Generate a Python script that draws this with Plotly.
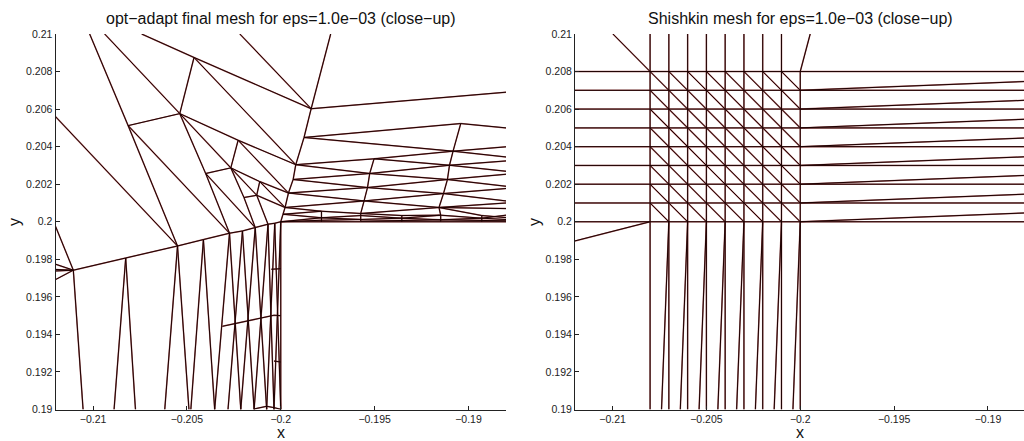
import plotly.graph_objects as go

# ---- left mesh (opt-adapt), node coordinates in units of 1e-3 ----
node_names = ["t1","t2","t3","t4","t5","e1","A","B","C","D","E","F","G","H","I","J","K","L","M","N","O","P","Q","T","S","U","V",
              "V2","V3","V4","V5","U2","U3","U4","U5","G2","L2","R","y1","y2","y4","y6","y9",
              "n1","n1b","a1","a2","a3","a4","a5","a6","b2","b4","b6","c3","c5","c6","d1","d2","d4","d6","dr",
              "v3b","v4b","v5b"]
node_x = [-210.18,-209.38,-207.41,-202.18,-197.34,-212,-204.62,-205.38,-208.13,-202.27,-202.66,-204.00,-199.20,-201.12,-201.28,-201.96,-199.59,-199.77,-200,-200.68,-201.36,-202.73,-198.38,-198.76,-190.41,-190.82,-195.03,
          -195.26,-195.38,-195.56,-195.74,-191.01,-191.12,-191.33,-191.57,-199.34,-199.88,-205.50,-211.05,-208.26,-204.12,-202.04,-200.32,
          -197.83,-197.83,-197.83,-195.74,-193.55,-191.48,-189.29,-188,-195.74,-191.48,-188,-193.55,-189.29,-188,-197.83,-195.74,-191.48,-188,-188,
          -193.55,-191.48,-189.29]
node_y = [210,210,210,210,210,205.6,208.75,205.76,205.12,204.34,202.87,202.57,203.04,202.14,201.41,201.29,201.53,200.76,200,199.87,199.69,199.39,206.02,204.49,205.23,203.76,203.35,
          202.57,201.82,201.11,200.44,203.01,202.25,201.50,200.76,202.25,200.40,198.71,197.42,198.07,199.05,199.51,199.92,
          200.56,200,200.21,200.33,200.19,200.35,200.19,200.35,200.12,200.10,200.12,200.33,200.33,200.22,200.08,200.03,200.05,200.05,200,
          200,200,200]
edge_pairs = [("t1","C"),("C","R"),("t2","B"),("t3","A"),("A","Q"),("t4","Q"),("t5","Q"),("A","B"),("B","C"),("A","G"),("B","D"),("D","G"),
    ("B","E"),("B","F"),("F","P"),("E","F"),("D","E"),("D","K"),("E","H"),("H","K"),("H","I"),("H","L"),("E","I"),("E","J"),("J","O"),
    ("J","I"),("I","N"),("I","L"),("F","O"),("C","P"),("e1","R"),
    ("Q","T"),("T","G"),("G","G2"),("G2","K"),("K","L"),("L","L2"),("L2","M"),
    ("y1","y2"),("y2","R"),("R","y4"),("y4","P"),("P","y6"),("y6","O"),("O","N"),("N","y9"),("y9","M"),
    ("T","S"),("T","U"),("S","U"),("G","V"),("V","U"),("V","U2"),("G","V2"),("V2","U3"),("G2","V2"),("V2","U2"),("G2","V3"),("V3","U4"),
    ("K","V3"),("V3","U3"),("K","V4"),("V4","U5"),("L","V4"),("V4","U4"),("V5","U5"),
    ("V","V2"),("V2","V3"),("V3","V4"),("V4","V5"),("U","U2"),("U2","U3"),("U3","U4"),("U4","U5"),
    ("L","n1"),("L2","n1"),("n1","V5"),("n1","n1b"),("V5","a2"),("a2","d2"),("c3","v3b"),("U5","a4"),("a4","v4b"),("c5","v5b"),
    ("L2","a1"),("a1","a2"),("a2","a3"),("a3","a4"),("a4","a5"),("a5","a6"),
    ("M","a1"),("a1","b2"),("b2","a3"),("a3","b4"),("b4","a5"),("a5","b6"),
    ("V5","c3"),("c3","a4"),("U5","c5"),("c5","c6"),
    ("M","d1"),("d1","b2"),("d2","b4"),("b4","d6"),("M","dr")]

# right-edge fan ends, x=-188
fan_from = ["Q","S","U","U","U2","U2","U3","U3","U4","U4","U5","U5"]
fan_y    = [206.9,205.0,203.99,203.45,203.24,202.69,202.53,201.89,201.77,201.11,201.0,200.7]

# lines meeting the left axis at x=-212, ending at y1
left_fan_y = [199.76,197.74,197.46,197.38,196.92]

# zigzag below the corner: apex name, bottom x at y=190
zig_apex = ["y1","y2","y2","R","R","y4","y4","P","P","y6","y6","O","O","N","N","y9","y9","M","M"]
zig_x    = [-210.53,-208.88,-207.74,-206.18,-204.89,-204.79,-203.52,-203.52,-202.13,-202.81,-201.42,-202.13,-200.75,-201.42,-200.36,-200.75,-200,-200.36,-200]

# short cross pieces below the corner
cross_x = [[-203.11,-200.36,-200],[-200.5,-200],[-200.36,-200],[-201.42,-200.75,-200.36,-200]]
cross_y = [[194.43,195.02,195],[197.47,197.5],[192.58,192.53],[190.03,190.17,190.1,190.01]]

# ---- right mesh (Shishkin) ----
grid_x = [-208,-207,-206,-205,-204,-203,-202,-201,-200]
grid_y = [200,201,202,203,204,205,206,207,208]
right_fan_y = [200.47,201.47,202.47,203.46,204.46,205.46,206.47,207.47]
bottom_x = [-207.39,-206.39,-205.39,-204.39,-203.39,-202.39,-201.39,-200.39]
extra_x = [[-208,-209.98],[-200,-199.47],[-208,-212]]
extra_y = [[208,210],[208,210],[200,198.98]]

# ---- axes ----
x_ticks = [-0.21,-0.205,-0.2,-0.195,-0.19]
x_labels = ["\u22120.21","\u22120.205","\u22120.2","\u22120.195","\u22120.19"]
y_ticks = [0.19,0.192,0.194,0.196,0.198,0.2,0.202,0.204,0.206,0.208,0.21]
y_labels = ["0.19","0.192","0.194","0.196","0.198","0.2","0.202","0.204","0.206","0.208","0.21"]
title_left = "opt\u2212adapt final mesh for eps=1.0e\u221203 (close\u2212up)"
title_right = "Shishkin mesh for eps=1.0e\u221203 (close\u2212up)"

pos = dict(zip(node_names, zip(node_x, node_y)))

lx, ly = [], []
def seg(xs, ys, X, Y):
    X.extend(v / 1000 for v in xs); X.append(None)
    Y.extend(v / 1000 for v in ys); Y.append(None)

for a, b in edge_pairs:
    seg([pos[a][0], pos[b][0]], [pos[a][1], pos[b][1]], lx, ly)
for n, y in zip(fan_from, fan_y):
    seg([pos[n][0], -188], [pos[n][1], y], lx, ly)
for y in left_fan_y:
    seg([-212, pos["y1"][0]], [y, pos["y1"][1]], lx, ly)
for n, x in zip(zig_apex, zig_x):
    seg([pos[n][0], x], [pos[n][1], 190], lx, ly)
for xs, ys in zip(cross_x, cross_y):
    seg(xs, ys, lx, ly)

rx, ry = [], []
for y in grid_y:
    seg([-212, -188], [y, y], rx, ry)
for y, ye in zip(grid_y[:-1], right_fan_y):
    seg([-200, -188], [y, ye], rx, ry)
for x in grid_x:
    seg([x, x], [190, 210] if x != -200 else [190, 208], rx, ry)
for x, xb in zip(grid_x[1:], bottom_x):
    seg([x, xb], [200, 190], rx, ry)
for i in range(8):
    for j in range(8):
        seg([grid_x[i], grid_x[i + 1]], [grid_y[j + 1], grid_y[j]], rx, ry)
for xs, ys in zip(extra_x, extra_y):
    seg(xs, ys, rx, ry)

fig = go.Figure()
for X, Y, xa, ya in [(lx, ly, "x", "y"), (rx, ry, "x2", "y2")]:
    fig.add_trace(go.Scatter(x=X, y=Y, mode="lines", xaxis=xa, yaxis=ya, hoverinfo="skip",
                             line=dict(color="#a86060", width=1.5), connectgaps=False))
    fig.add_trace(go.Scatter(x=X, y=Y, mode="lines", xaxis=xa, yaxis=ya, hoverinfo="skip",
                             line=dict(color="#1c0000", width=1), connectgaps=False))

FONT = "Liberation Sans, Arial, sans-serif"
def xaxis(domain, rng, anchor):
    return dict(domain=domain, range=rng, anchor=anchor, showgrid=False, zeroline=False, automargin=False,
                showline=True, linecolor="#222", linewidth=1, ticks="inside", ticklen=4, tickwidth=1,
                tickcolor="#222", tickvals=x_ticks, ticktext=x_labels, tickangle=0,
                tickfont=dict(family=FONT, size=10.5, color="#222"))
def yaxis(anchor):
    return dict(domain=[1 - 409.5 / 441, 1 - 34 / 441], range=[0.19, 0.21], anchor=anchor, showgrid=False, zeroline=False, automargin=False,
                showline=True, linecolor="#222", linewidth=1, ticks="inside", ticklen=4, tickwidth=1,
                tickcolor="#222", tickvals=y_ticks, ticktext=y_labels,
                tickfont=dict(family=FONT, size=10.5, color="#222"))

def label(text, x, y, size, angle=0):
    return dict(text=text, xref="paper", yref="paper", x=x / 1024, y=1 - y / 441, yanchor="middle", xanchor="center",
                showarrow=False, textangle=angle, font=dict(family=FONT, size=size, color="#111"))

fig.update_layout(
    width=1024, height=441, margin=dict(l=0, r=0, t=0, b=0), autosize=False,
    paper_bgcolor="white", plot_bgcolor="white", showlegend=False,
    xaxis=xaxis([55.5 / 1024, 506 / 1024], [-0.212, -0.188], "y"),
    yaxis=yaxis("x"),
    xaxis2=xaxis([575 / 1024, 1.0], [-0.212, -0.18808], "y2"),
    yaxis2=yaxis("x2"),
    annotations=[
        label(title_left, 281, 19, 16),
        label(title_right, 800, 19, 16),
        label("x", 280.5, 432, 16),
        label("x", 800, 432, 16),
        label("y", 14, 222, 16, -90),
        label("y", 534, 222, 16, -90),
    ],
)
fig.write_html("out.html", config={"displayModeBar": False},
               post_script="document.body.style.margin='0';document.body.style.overflow='hidden';")
